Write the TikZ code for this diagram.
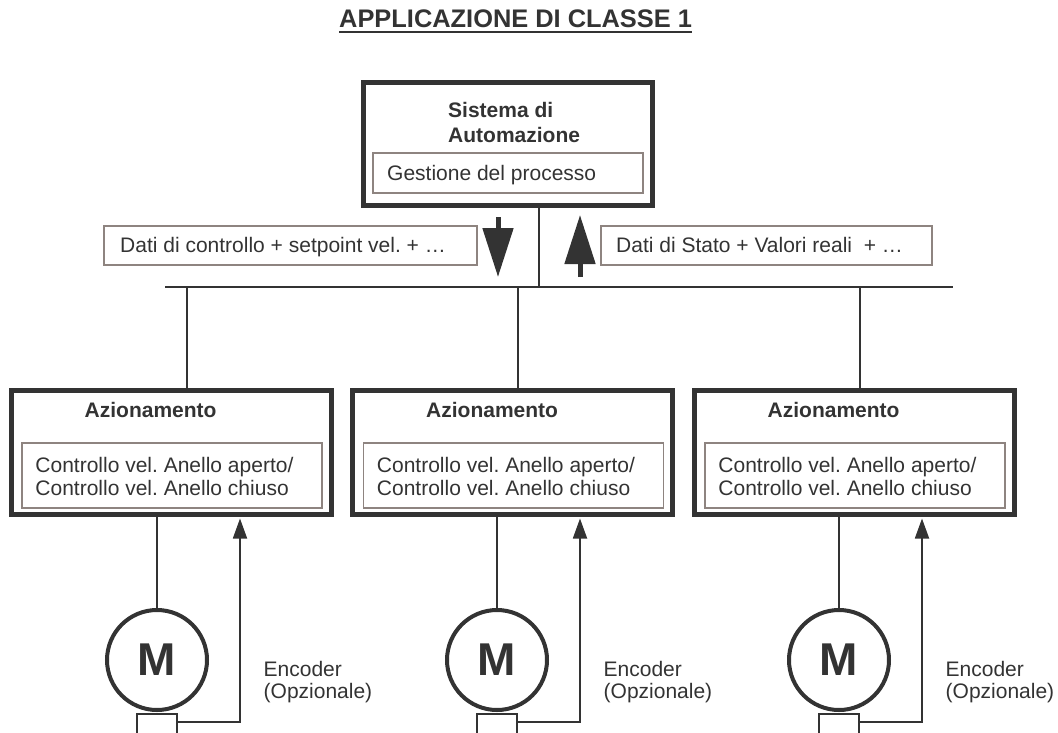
\documentclass[tikz,border=0pt]{standalone}
\usepackage{fontspec}
\setmainfont{Liberation Sans}
\usetikzlibrary{arrows.meta,calc}
\definecolor{ink}{HTML}{333333}
\definecolor{frame}{HTML}{8E8480}

\begin{document}
\frenchspacing
\begin{tikzpicture}[x=1pt,y=-1pt,
  every node/.style={text=ink, font=\fontsize{21}{25}\selectfont},
  outer/.style={draw=ink, line width=5pt, inner sep=0pt},
  inner/.style={draw=frame, line width=1.5pt, inner sep=0pt},
  tag/.style={draw=frame, line width=1.5pt, inner sep=0pt},
  txt/.style={anchor=base west, inner sep=0pt},
  head/.style={txt, font=\fontsize{21}{25}\selectfont\bfseries},
  wire/.style={draw=ink, line width=1.8pt},
  flow/.style={draw=ink, fill=ink, line width=5pt, -{Triangle[width=30pt,length=49pt]}},
  fb/.style={wire, -{Triangle[width=14pt,length=20pt]}, shorten >=2pt},
  motor/.style={circle, draw=ink, line width=4pt, minimum size=100pt, inner sep=0pt,
    font=\fontsize{46}{46}\selectfont\bfseries},
  enc/.style={draw=ink, line width=1.8pt, minimum width=40pt, minimum height=30pt,
    inner sep=0pt, anchor=north}]

\useasboundingbox (0,0) rectangle (1058,732);

% heading
\node[txt, font=\fontsize{25.4}{30}\selectfont\bfseries] (title) at (339,27) {APPLICAZIONE DI CLASSE 1};
\draw[ink, line width=2.5pt] ([yshift=-5pt]title.base west) -- ([yshift=-5pt]title.base east);

% automation system
\node[outer, minimum width=289pt, minimum height=123pt] (sys) at (507.5,143.5) {};
\node[inner, minimum width=270pt, minimum height=40pt] (gp) at (508,173) {};
\node[head] (sysA) at (448,117) {Sistema di};
\node[head] (sysB) at (448,142) {Automazione};
\node[txt] (gpt) at (387,180) {Gestione del processo};

% field bus
\coordinate (busL) at (165,287);
\coordinate (busR) at (953,287);
\draw[wire] (busL) -- (busR);
\coordinate (stem) at (539,287);
\draw[wire] (stem |- sys.south) -- (stem);

% data exchanged on the bus
\coordinate (dn) at (498,217);
\coordinate (up) at (580,277);
\draw[flow] (dn) -- ++(0,60);
\draw[flow] (up) -- ++(0,-62);

\node[tag, minimum width=373pt, minimum height=39pt] (cmd) at (290.5,245.5) {};
\node[txt] (cmdt) at (120,252) {Dati di controllo + setpoint vel. + …};
\node[tag, minimum width=331pt, minimum height=39pt] (fbk) at (766.5,245.5) {};
\node[txt] (fbkt) at (616,252) {Dati di Stato + Valori reali\ \ + …};

% drives, motors and encoders
\foreach \i/\cx/\tx/\mx/\ex in {1/171/187/157/240, 2/512.5/518/497/580, 3/854/860/839/922} {
  \node[outer, minimum width=320pt, minimum height=124pt] (a\i) at (\cx,452) {};
  \node[inner, minimum width=300pt, minimum height=65pt] (c\i) at ($(a\i.center)+(1,23.5)$) {};
  \node[head] (h\i) at ($(a\i.west)+(76,-35)$) {Azionamento};
  \node[txt] (ca\i) at ($(c\i.west)+(14,-3.5)$) {Controllo vel. Anello aperto/};
  \node[txt] (cb\i) at ($(c\i.west)+(14,19.5)$) {Controllo vel. Anello chiuso};
  \coordinate (t\i) at (\tx,287);
  \draw[wire] (t\i) -- (t\i |- a\i.north);
  \node[motor] (m\i) at (\mx,660) {M};
  \node[enc] (e\i) at ($(m\i.south)+(0,1)$) {};
  \draw[wire] (m\i.north |- a\i.south) -- (m\i.north);
  \coordinate (f\i) at (\ex,722);
  \draw[fb] (e\i.east |- f\i) -- (f\i) -- (f\i |- a\i.south);
  \node[txt] (ea\i) at ($(m\i.center)+(106.5,16)$) {Encoder};
  \node[txt] (eb\i) at ($(m\i.center)+(106.5,38)$) {(Opzionale)};
}
\end{tikzpicture}
\end{document}
